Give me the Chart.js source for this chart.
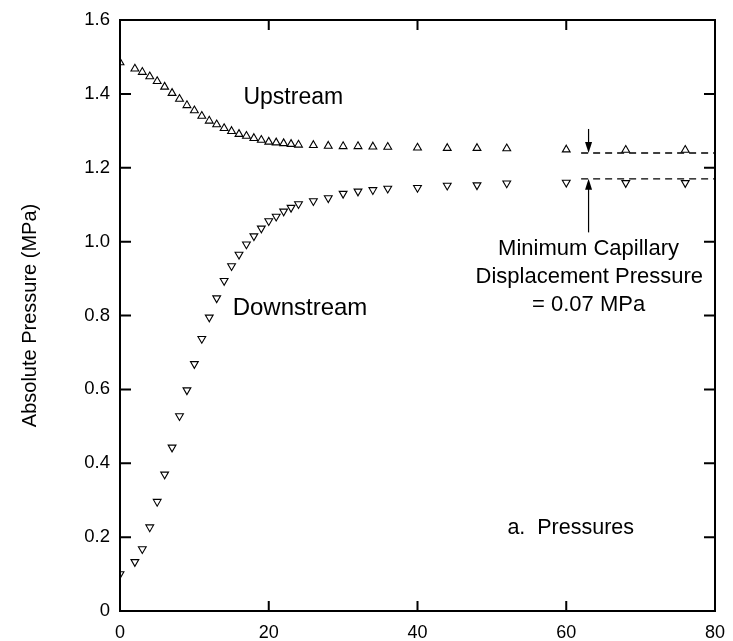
<!DOCTYPE html>
<html>
<head>
<meta charset="utf-8">
<script src="https://cdn.jsdelivr.net/npm/chart.js@4.4.1/dist/chart.umd.min.js"></script>
<style>
html,body{margin:0;padding:0;background:#fff;}
#wrap{width:733px;height:641px;position:relative;}
</style>
</head>
<body>
<div id="wrap"><canvas id="c" width="733" height="641"></canvas></div>
<script>
// ---- data ----
const timeX = [0,2,3,4,5,6,7,8,9,10,11,12,13,14,15,16,17,18,19,20,21,22,23,24,26,28,30,32,34,36,40,44,48,52,60,68,76];
const upstream = [1.485,1.468,1.459,1.447,1.434,1.419,1.402,1.386,1.369,1.355,1.340,1.327,1.317,1.307,1.299,1.291,1.286,1.280,1.275,1.270,1.268,1.266,1.264,1.262,1.261,1.259,1.258,1.258,1.257,1.256,1.254,1.253,1.253,1.252,1.249,1.248,1.248];
const downstream = [0.100,0.133,0.168,0.227,0.296,0.370,0.443,0.528,0.598,0.669,0.737,0.795,0.847,0.894,0.934,0.965,0.993,1.015,1.036,1.056,1.068,1.082,1.092,1.102,1.110,1.118,1.130,1.136,1.140,1.144,1.146,1.152,1.153,1.158,1.160,1.159,1.159];
const xTickLabels = ['0','20','40','60','80'];
const yTickLabels = ['0','0.2','0.4','0.6','0.8','1.0','1.2','1.4','1.6'];
const upLevel = 1.24, downLevel = 1.17;
const levelStartX = 62, levelEndX = 80;
const arrowX = 63, upArrowFrom = 1.305, downArrowFrom = 1.025;
const labels = [
  {text:'Upstream', x:23.3, y:1.39, size:23},
  {text:'Downstream', x:24.2, y:0.818, size:24},
  {text:'Minimum Capillary', x:63.0, y:0.979, size:22},
  {text:'Displacement Pressure', x:63.1, y:0.905, size:22},
  {text:'= 0.07 MPa', x:63.0, y:0.828, size:22},
  {text:'a.  Pressures', x:60.6, y:0.224, size:21.5}
];

const FONT = '"Liberation Sans", Arial, Helvetica, sans-serif';

const framePlugin = {
  id:'frame',
  afterDatasetsDraw(chart){
    const {ctx, chartArea:a, scales:{x,y}} = chart;
    ctx.save();
    ctx.strokeStyle = '#000';
    ctx.lineWidth = 2;
    ctx.strokeRect(a.left, a.top, a.right-a.left, a.bottom-a.top);
    ctx.beginPath();
    x.ticks.forEach(t=>{
      const px = x.getPixelForValue(t.value);
      ctx.moveTo(px, a.bottom); ctx.lineTo(px, a.bottom-10);
      ctx.moveTo(px, a.top); ctx.lineTo(px, a.top+10);
    });
    y.ticks.forEach(t=>{
      const py = y.getPixelForValue(t.value);
      ctx.moveTo(a.left, py); ctx.lineTo(a.left+11, py);
      ctx.moveTo(a.right, py); ctx.lineTo(a.right-11, py);
    });
    ctx.stroke();
    // arrows
    ctx.lineWidth = 1.2;
    const ax = x.getPixelForValue(arrowX);
    const arrow = (fromV, toV) => {
      const y0 = y.getPixelForValue(fromV), y1 = y.getPixelForValue(toV);
      const dir = Math.sign(y1 - y0);
      ctx.beginPath(); ctx.moveTo(ax, y0); ctx.lineTo(ax, y1 - dir*8); ctx.stroke();
      ctx.beginPath(); ctx.moveTo(ax, y1); ctx.lineTo(ax-3.5, y1 - dir*11); ctx.lineTo(ax+3.5, y1 - dir*11); ctx.closePath(); ctx.fill();
    };
    ctx.fillStyle = '#000';
    arrow(upArrowFrom, upLevel);
    arrow(downArrowFrom, downLevel);
    // text
    ctx.textAlign = 'center'; ctx.textBaseline = 'middle';
    labels.forEach(l=>{
      ctx.font = l.size + 'px ' + FONT;
      ctx.fillText(l.text, x.getPixelForValue(l.x), y.getPixelForValue(l.y));
    });
    ctx.restore();
  }
};

new Chart(document.getElementById('c'), {
  type:'scatter',
  data:{
    datasets:[
      {label:'Upstream', data: timeX.map((t,i)=>({x:t,y:upstream[i]})), pointStyle:'triangle', pointRadius:4.5, pointBorderWidth:1.1, pointBorderColor:'#000', pointBackgroundColor:'#fff', clip:0},
      {label:'Downstream', data: timeX.map((t,i)=>({x:t,y:downstream[i]})), pointStyle:'triangle', pointRotation:180, pointRadius:4.5, pointBorderWidth:1.1, pointBorderColor:'#000', pointBackgroundColor:'#fff', clip:0},
      {label:'up level', type:'line', data:[{x:levelStartX,y:upLevel},{x:levelEndX,y:upLevel}], borderColor:'#000', borderWidth:1.3, borderDash:[7,5], pointRadius:0, fill:false},
      {label:'down level', type:'line', data:[{x:levelStartX,y:downLevel},{x:levelEndX,y:downLevel}], borderColor:'#000', borderWidth:1.3, borderDash:[7,5], pointRadius:0, fill:false}
    ]
  },
  options:{
    responsive:false, animation:false, devicePixelRatio:1,
    layout:{padding:{top:20,right:18,left:0,bottom:0}},
    plugins:{legend:{display:false}, tooltip:{enabled:false}},
    scales:{
      x:{type:'linear', min:0, max:80,
        afterFit(s){ s.height = 30; },
        grid:{display:false}, border:{display:false},
        ticks:{stepSize:20, padding:3, color:'#000', font:{family:FONT, size:18},
          callback:(v,i)=>xTickLabels[i]}
      },
      y:{type:'linear', min:0, max:1.6,
        afterFit(s){ s.width = 120; },
        grid:{display:false}, border:{display:false},
        title:{display:true, text:'Absolute Pressure (MPa)', color:'#000', font:{family:FONT, size:20}, padding:{top:18,bottom:0}},
        ticks:{stepSize:0.2, padding:2, color:'#000', font:{family:FONT, size:18.5},
          callback:(v,i)=>yTickLabels[i]}
      }
    }
  },
  plugins:[framePlugin]
});
</script>
</body>
</html>
